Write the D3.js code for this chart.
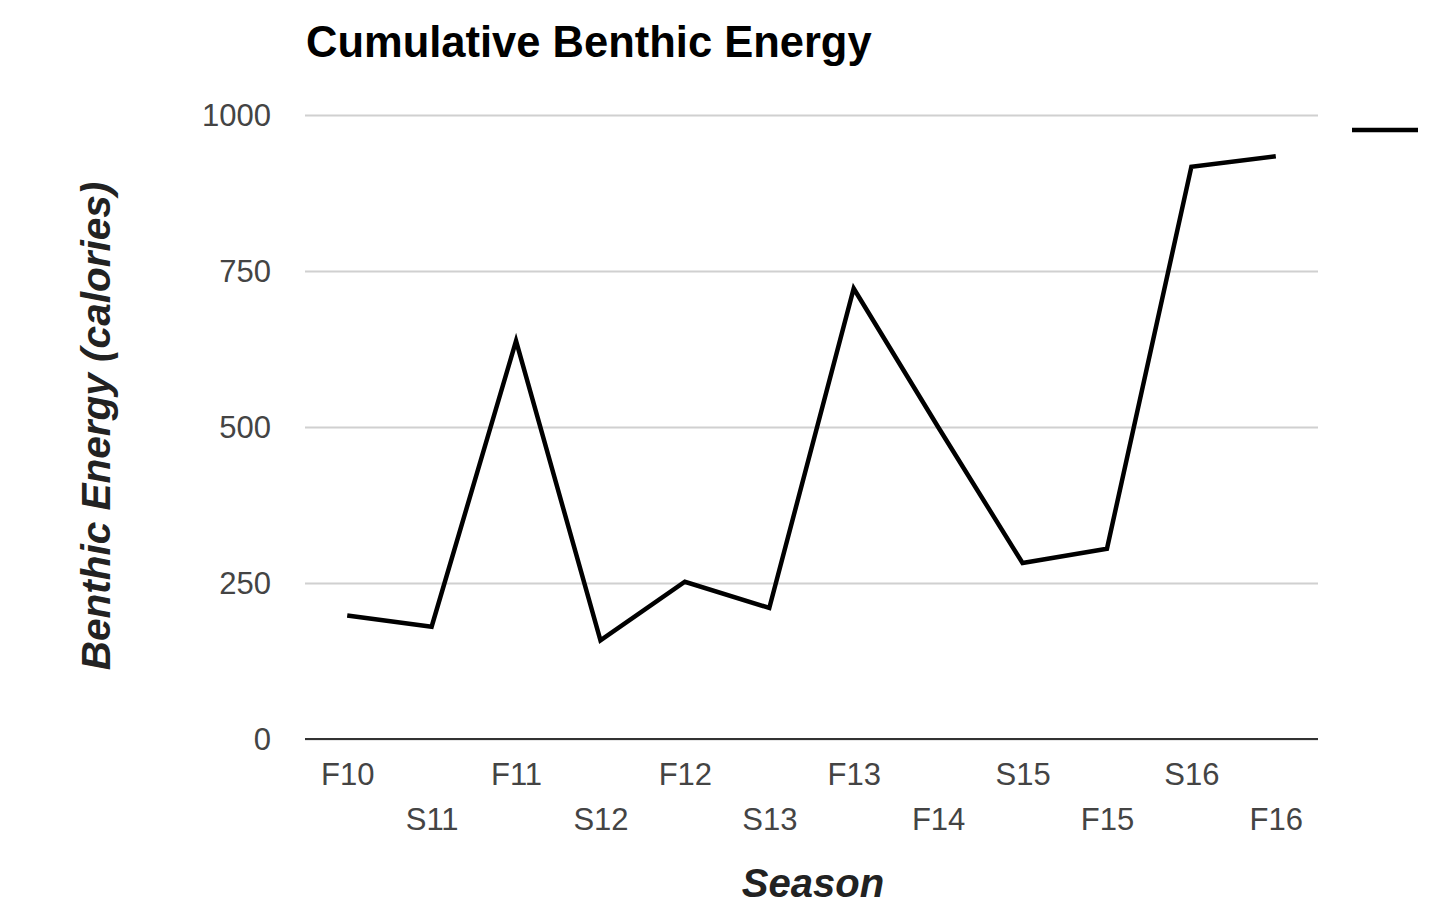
<!DOCTYPE html>
<html>
<head>
<meta charset="utf-8">
<script src="https://cdn.jsdelivr.net/npm/d3@7"></script>
<style>
  html, body { margin: 0; padding: 0; background: #fff; }
  svg { display: block; font-family: "Liberation Sans", Arial, sans-serif; }
</style>
</head>
<body>
<svg id="chart" width="1439" height="905"></svg>
<script>
// Seasons sampled (F = fall, S = spring)
const seasons = ["F10", "S11", "F11", "S12", "F12", "S13", "F13", "F14", "S15", "F15", "S16", "F16"];
// Cumulative benthic energy per season, in calories
const energy = [198, 180, 638, 158, 252, 210, 722, 500, 282, 305, 917, 934];
// Value-axis ticks
const yTicks = [0, 250, 500, 750, 1000];

const titleText = "Cumulative Benthic Energy";
const xTitle = "Season";
const yTitle = "Benthic Energy (calories)";

const svg = d3.select("#chart");
const plot = { left: 305, right: 1318, top: 115, bottom: 739 };

const x = d3.scalePoint()
  .domain(seasons)
  .range([plot.left, plot.right])
  .padding(0.5);

const y = d3.scaleLinear()
  .domain([0, 1000])
  .range([plot.bottom, plot.top]);

// Title
svg.append("text")
  .attr("x", 306)
  .attr("y", 57)
  .attr("font-size", 43.5)
  .attr("font-weight", "bold")
  .attr("fill", "#000")
  .text(titleText);

// Horizontal gridlines and value labels
const yAxis = d3.axisLeft(y)
  .tickValues(yTicks)
  .tickSize(-(plot.right - plot.left))
  .tickPadding(34)
  .tickFormat(d3.format("d"));

const gy = svg.append("g")
  .attr("transform", `translate(${plot.left},0)`)
  .call(yAxis);
gy.select(".domain").remove();
gy.selectAll(".tick line")
  .attr("stroke", "#d0d0d0")
  .attr("stroke-width", 2);
gy.selectAll(".tick text")
  .attr("font-size", 31)
  .attr("fill", "#444")
  .attr("font-family", "'Liberation Sans', Arial, sans-serif")
  .attr("dy", "0.34em");

// Baseline at zero
svg.append("line")
  .attr("x1", plot.left)
  .attr("x2", plot.right)
  .attr("y1", y(0))
  .attr("y2", y(0))
  .attr("stroke", "#333")
  .attr("stroke-width", 2);

// Category labels, staggered over two rows
const xAxis = d3.axisBottom(x).tickSize(0).tickPadding(0);
const gx = svg.append("g")
  .attr("transform", `translate(0,${plot.bottom})`)
  .call(xAxis);
gx.select(".domain").remove();
gx.selectAll(".tick text")
  .attr("font-size", 31)
  .attr("fill", "#444")
  .attr("font-family", "'Liberation Sans', Arial, sans-serif")
  .attr("dy", null)
  .attr("y", (d, i) => (i % 2 === 0 ? 46 : 91));

// Data line
const line = d3.line()
  .x((d, i) => x(seasons[i]))
  .y(d => y(d));

svg.append("path")
  .datum(energy)
  .attr("fill", "none")
  .attr("stroke", "#000")
  .attr("stroke-width", 4.5)
  .attr("stroke-linejoin", "miter")
  .attr("d", line);

// Legend swatch
svg.append("line")
  .attr("x1", 1352)
  .attr("x2", 1418)
  .attr("y1", 130)
  .attr("y2", 130)
  .attr("stroke", "#000")
  .attr("stroke-width", 4.5);

// Axis titles
svg.append("text")
  .attr("x", 813)
  .attr("y", 897)
  .attr("text-anchor", "middle")
  .attr("font-size", 40)
  .attr("font-weight", "bold")
  .attr("font-style", "italic")
  .attr("fill", "#222")
  .text(xTitle);

svg.append("text")
  .attr("transform", "translate(110,426) rotate(-90)")
  .attr("text-anchor", "middle")
  .attr("font-size", 40.5)
  .attr("font-weight", "bold")
  .attr("font-style", "italic")
  .attr("fill", "#222")
  .text(yTitle);
</script>
</body>
</html>
